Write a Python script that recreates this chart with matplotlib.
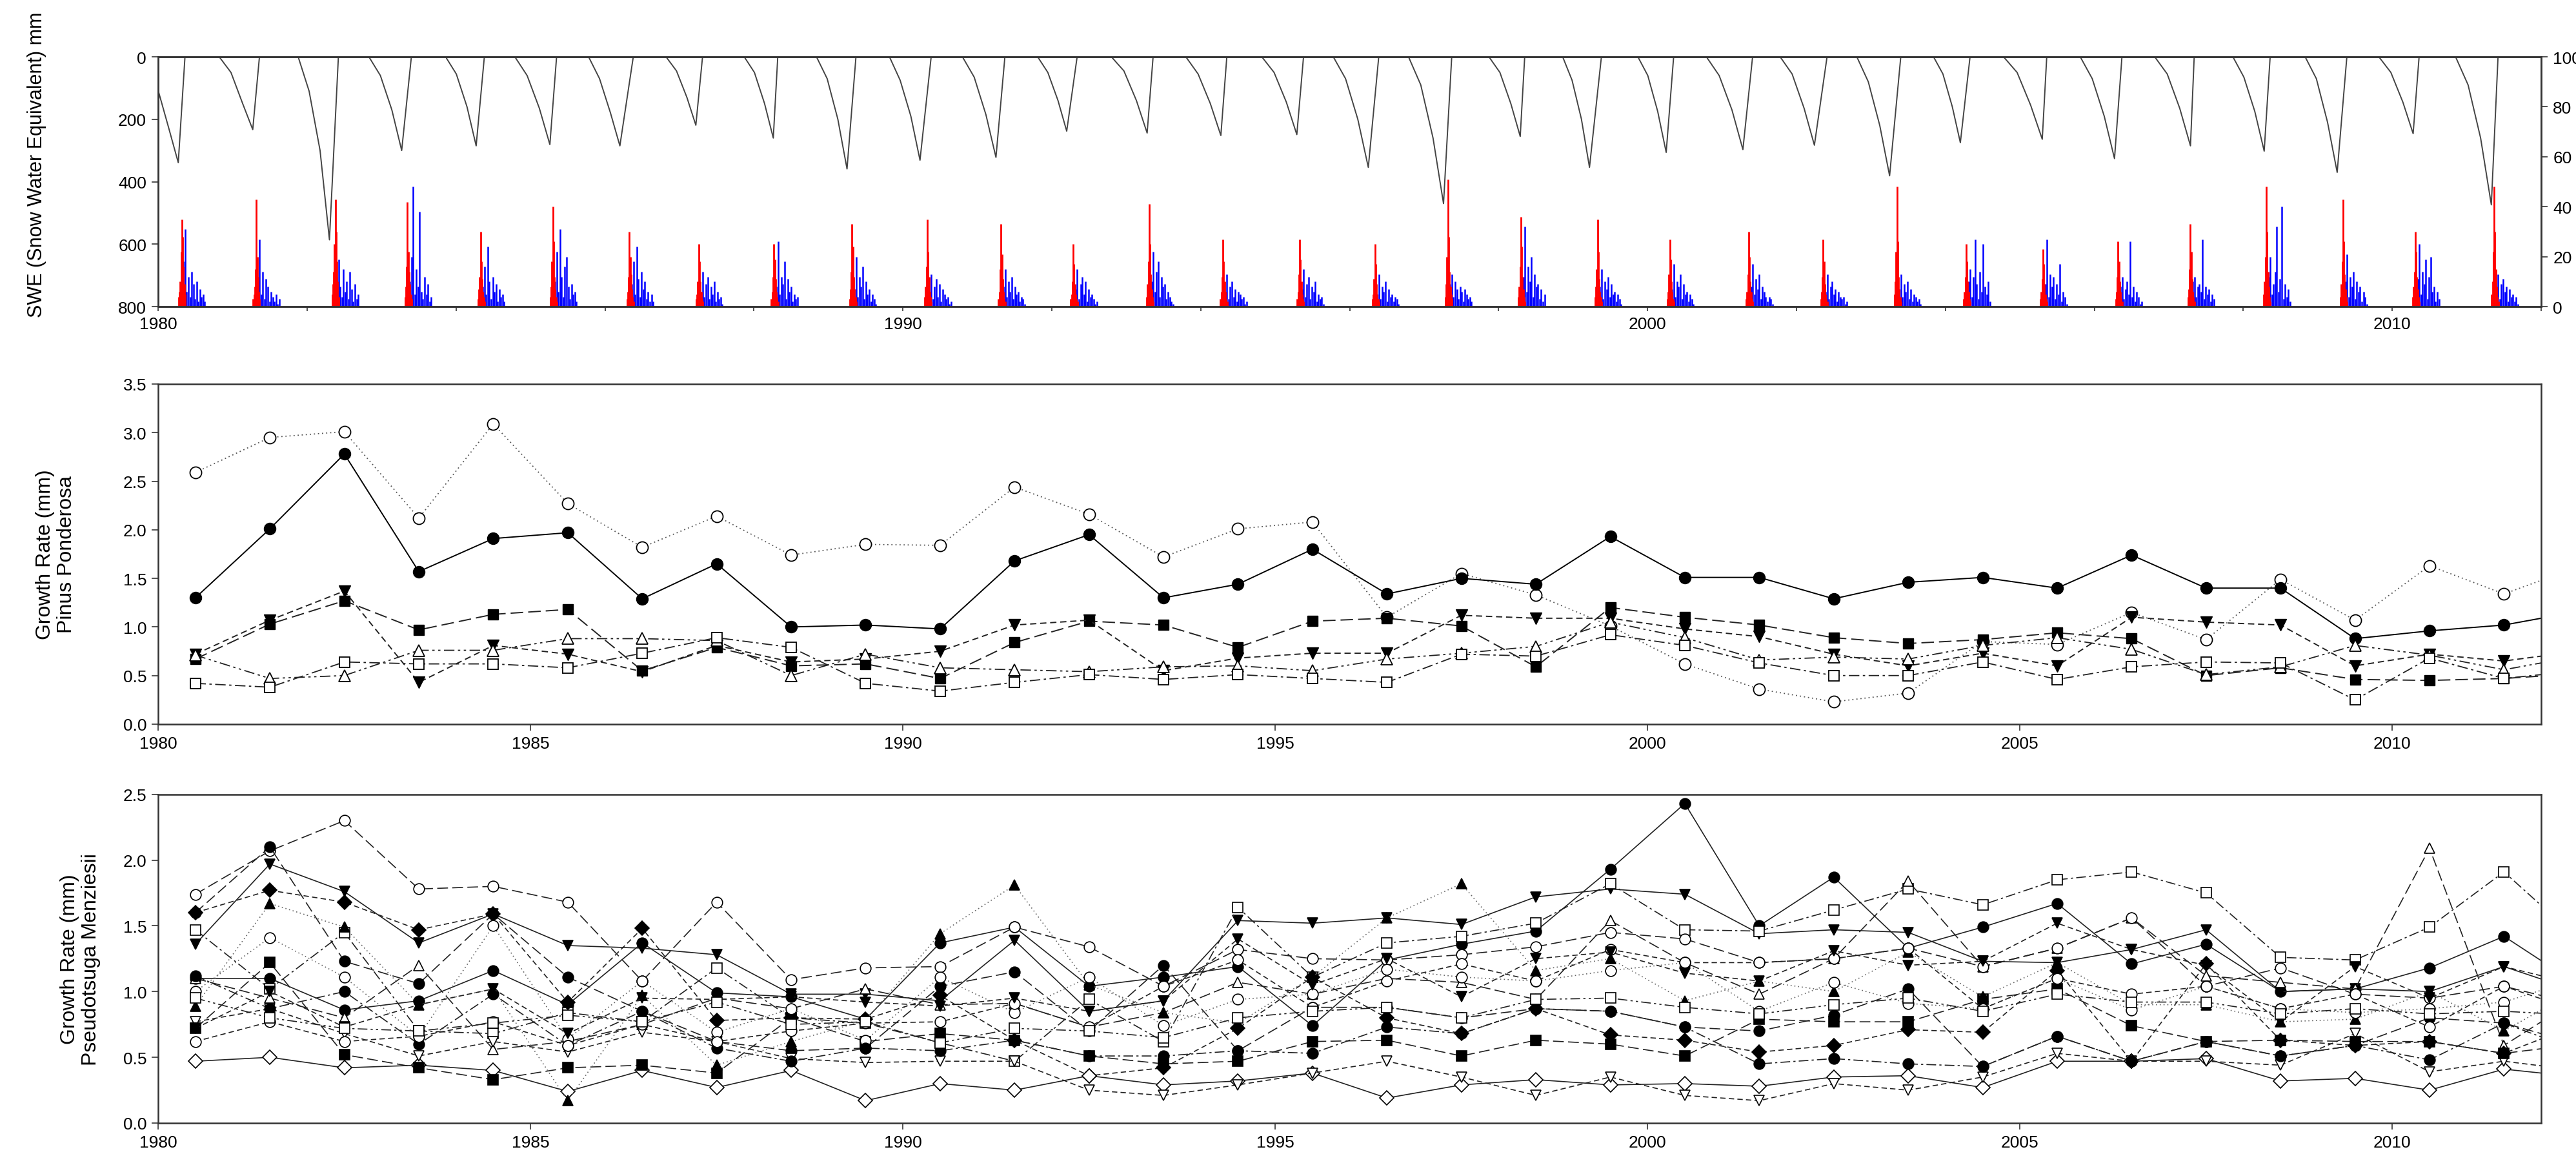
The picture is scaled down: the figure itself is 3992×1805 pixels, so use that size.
import numpy as np
import matplotlib
matplotlib.use('Agg')
import matplotlib.pyplot as plt
from matplotlib.ticker import MultipleLocator, FuncFormatter

plt.rcParams['font.family'] = ['Liberation Sans', 'DejaVu Sans']

# ---- top panel: snow water equivalent, one season per water year
swe_start = [1979.85, 1980.82, 1981.88, 1982.83, 1983.86, 1984.79, 1985.78, 1986.82,
             1987.87, 1988.84, 1989.82, 1990.80, 1991.81, 1992.80, 1993.80, 1994.82,
             1995.78, 1996.79, 1997.87, 1998.86, 1999.87, 2000.79, 2001.78, 2002.81,
             2003.84, 2004.78, 2005.81, 2006.81, 2007.86, 2008.83, 2009.82, 2010.85]
swe_peak_t = [1980.27, 1981.27, 1982.30, 1983.27, 1984.27, 1985.26, 1986.20, 1987.22,
              1988.26, 1989.25, 1990.23, 1991.25, 1992.20, 1993.28, 1994.27, 1995.29,
              1996.25, 1997.26, 1998.29, 1999.22, 2000.25, 2001.28, 2002.24, 2003.25,
              2004.20, 2005.30, 2006.27, 2007.29, 2008.28, 2009.26, 2010.28, 2011.33]
swe_melt = [1980.36, 1981.36, 1982.42, 1983.40, 1984.38, 1985.35, 1986.38, 1987.31,
            1988.32, 1989.37, 1990.38, 1991.37, 1992.34, 1993.36, 1994.35, 1995.38,
            1996.39, 1997.37, 1998.35, 1999.38, 2000.35, 2001.41, 2002.41, 2003.40,
            2004.33, 2005.36, 2006.37, 2007.34, 2008.36, 2009.39, 2010.36, 2011.42]
swe_peak = [339, 233, 586, 300, 285, 281, 285, 219, 260, 359, 331, 322, 238, 244, 252, 249,
            354, 470, 255, 354, 306, 297, 283, 381, 275, 264, 326, 285, 302, 370, 246, 474]
swe_q1 = [105, 50, 110, 60, 55, 60, 70, 45, 50, 70, 75, 65, 50, 45, 55, 50,
          70, 90, 50, 75, 60, 60, 55, 80, 55, 50, 70, 55, 65, 70, 50, 90]
swe_q2 = [230, 150, 300, 170, 160, 165, 180, 130, 150, 200, 190, 185, 140, 140, 150, 145,
          200, 260, 150, 200, 175, 170, 165, 220, 160, 155, 190, 165, 175, 210, 145, 260]

# daily totals around the melt of each year (right axis)
red_days = [
    "4 6 10 22 35 28 16 9 5", "3 5 8 15 43 20 12 6 3", "5 9 14 25 43 30 18 10 4",
    "4 8 16 42 22 14 9 5 3", "3 7 12 30 18 11 6 4 2", "4 8 18 40 26 12 7 4 2",
    "3 6 12 30 20 13 7 4 2", "3 5 10 25 18 10 6 3 2", "3 6 12 25 19 11 6 4 2",
    "3 7 14 33 24 12 7 4 2", "4 8 16 35 22 12 6 4 2", "3 6 15 33 21 11 6 3 2",
    "3 5 10 25 17 9 5 3 2", "4 9 18 41 25 13 7 4 2", "3 6 12 27 18 10 6 3 2",
    "3 6 13 27 19 10 5 3 2", "3 5 11 25 17 9 5 3 2", "4 9 20 51 28 14 8 5 3",
    "4 8 16 36 24 12 7 4 2", "4 8 15 35 22 11 6 4 2", "3 6 13 27 19 10 6 3 2",
    "3 6 13 30 20 10 6 3 2", "3 6 12 27 18 9 5 3 2", "5 10 22 48 26 12 7 4 2",
    "3 6 12 25 18 10 6 3 2", "3 6 11 23 17 9 5 3 2", "3 6 12 26 18 10 6 3 2",
    "4 7 15 33 22 11 6 4 2", "5 10 20 48 30 14 8 4 2", "4 9 18 43 26 13 7 4 2",
    "4 8 14 30 22 12 7 4 2", "5 10 22 48 30 15 8 4 2"]
blue_days = [
    "18 31 6 12 4 14 9 3 10 2 7 4 5 2", "9 27 5 14 3 11 8 2 6 4 2 5 1 3",
    "12 19 8 4 15 6 10 3 14 7 2 9 3 5", "10 20 48 5 15 8 38 6 3 12 5 9 2 4",
    "8 16 5 24 10 3 12 6 9 2 7 4 5 2", "10 22 6 31 12 4 16 20 8 3 9 5 6 2",
    "9 18 5 24 11 4 14 7 10 3 6 2 5 2", "6 14 4 9 12 3 8 5 10 2 6 3 4 1",
    "8 26 5 12 9 18 3 11 6 8 2 5 3 4", "7 20 4 12 8 16 3 10 5 7 2 5 3 1",
    "6 13 3 8 11 4 9 2 7 5 3 4 1 2", "8 15 4 10 6 12 3 8 5 6 2 4 3 1",
    "7 15 3 9 12 5 10 2 7 4 5 3 1 2", "10 22 6 14 18 4 12 8 9 3 6 4 2 1",
    "6 13 3 8 10 4 7 2 6 5 3 4 1 2", "7 15 4 9 12 3 8 6 10 2 5 3 4 1",
    "5 13 3 8 6 10 2 7 4 5 2 4 3 1", "9 13 4 10 7 3 8 6 2 7 5 3 4 2",
    "12 32 6 16 10 20 4 13 8 9 3 7 2 5", "8 15 3 10 7 12 4 9 5 6 2 5 3 1",
    "7 17 4 10 8 13 3 9 5 6 2 5 3 1", "8 17 5 11 7 13 3 8 6 4 2 4 3 1",
    "6 13 3 8 10 5 7 2 6 4 3 4 1 2", "7 13 4 9 6 10 3 7 2 5 4 2 3 1",
    "10 15 4 12 27 9 3 14 6 25 8 5 10 2", "9 27 4 13 8 12 3 9 5 17 2 6 4 1",
    "8 12 3 7 10 5 26 4 8 2 6 4 1 2", "10 12 4 8 9 6 27 3 8 5 7 2 5 3",
    "12 20 5 9 14 32 6 11 40 3 9 4 7 2", "10 21 4 12 8 14 3 10 6 8 2 6 4 1",
    "11 25 5 14 9 19 3 12 20 6 8 2 6 3", "8 13 3 9 11 6 8 2 7 4 5 2 4 1"]

# ---- tree ring growth (mm), one value per year, plotted mid-year
ring_years = [1980.5 + i for i in range(33)]

pp_open_circle = [2.59, 2.95, 3.01, 2.12, 3.09, 2.27, 1.82, 2.14, 1.74, 1.85, 1.84, 2.44, 2.16, 1.72, 2.01, 2.08, 1.10,
                  1.55, 1.33, 1.01, 0.62, 0.36, 0.23, 0.32, 0.85, 0.82, 1.15, 0.87, 1.49, 1.07, 1.63, 1.34, 1.62]
pp_filled_circle = [1.30, 2.01, 2.78, 1.57, 1.91, 1.97, 1.29, 1.65, 1.00, 1.02, 0.98, 1.68, 1.95, 1.30, 1.44, 1.80, 1.34,
                    1.50, 1.44, 1.93, 1.51, 1.51, 1.29, 1.46, 1.51, 1.40, 1.74, 1.40, 1.40, 0.88, 0.96, 1.02, 1.16]
pp_filled_square = [0.67, 1.03, 1.27, 0.97, 1.13, 1.18, 0.55, 0.79, 0.60, 0.62, 0.47, 0.84, 1.06, 1.02, 0.79, 1.06, 1.09,
                    1.01, 0.59, 1.20, 1.10, 1.02, 0.89, 0.83, 0.87, 0.94, 0.88, 0.50, 0.58, 0.46, 0.45, 0.47, 0.52]
pp_filled_tri = [0.72, 1.07, 1.37, 0.43, 0.81, 0.72, 0.54, 0.81, 0.64, 0.67, 0.75, 1.02, 1.07, 0.55, 0.68, 0.73, 0.73,
                 1.12, 1.09, 1.09, 0.98, 0.90, 0.72, 0.60, 0.73, 0.60, 1.10, 1.05, 1.02, 0.60, 0.72, 0.65, 0.75]
pp_open_tri = [0.71, 0.47, 0.50, 0.76, 0.76, 0.88, 0.88, 0.86, 0.50, 0.72, 0.58, 0.56, 0.54, 0.59, 0.60, 0.55, 0.67,
               0.73, 0.80, 1.05, 0.89, 0.66, 0.69, 0.67, 0.81, 0.89, 0.77, 0.51, 0.59, 0.81, 0.71, 0.56, 0.70]
pp_open_square = [0.42, 0.38, 0.64, 0.62, 0.62, 0.58, 0.73, 0.89, 0.79, 0.42, 0.34, 0.43, 0.51, 0.46, 0.51, 0.47, 0.43,
                  0.72, 0.70, 0.92, 0.81, 0.63, 0.50, 0.50, 0.64, 0.46, 0.59, 0.64, 0.63, 0.25, 0.68, 0.47, 0.55]

pm_series = [
    [1.10, 1.10, 0.86, 0.93, 1.16, 0.90, 1.37, 0.99, 0.96, 0.79, 1.37, 1.49, 1.04, 1.11, 1.19, 0.74, 1.24,
     1.36, 1.46, 1.93, 2.43, 1.50, 1.87, 1.33, 1.49, 1.67, 1.21, 1.36, 1.00, 1.02, 1.18, 1.42, 1.05],
    [1.36, 1.97, 1.76, 1.37, 1.59, 1.35, 1.33, 1.28, 0.98, 0.98, 0.93, 1.39, 0.85, 0.93, 1.54, 1.52, 1.56,
     1.51, 1.72, 1.78, 1.74, 1.44, 1.47, 1.45, 1.23, 1.22, 1.32, 1.47, 1.00, 1.02, 1.00, 1.19, 1.00],
    [1.47, 1.02, 1.45, 0.70, 0.68, 0.84, 0.77, 1.18, 0.80, 0.76, 0.61, 0.47, 0.94, 0.62, 1.64, 1.11, 1.37,
     1.42, 1.52, 1.82, 1.47, 1.46, 1.62, 1.78, 1.66, 1.85, 1.91, 1.75, 1.26, 1.24, 1.49, 1.91, 1.40],
    [1.10, 0.95, 0.80, 1.20, 0.56, 0.62, 0.75, 0.95, 0.87, 1.02, 0.90, 0.91, 0.73, 0.84, 1.07, 0.98, 1.10,
     1.07, 0.94, 1.54, 1.22, 0.98, 1.25, 1.84, 1.19, 1.33, 1.56, 1.12, 1.07, 1.02, 2.09, 0.59, 0.95],
    [1.74, 2.07, 2.30, 1.78, 1.80, 1.68, 1.08, 1.68, 1.09, 1.18, 1.19, 1.49, 1.34, 1.04, 1.32, 1.25, 1.24,
     1.28, 1.34, 1.45, 1.40, 1.22, 1.25, 1.33, 1.19, 1.33, 1.56, 1.04, 1.18, 0.98, 0.95, 1.04, 0.90],
    [1.60, 2.10, 1.23, 1.06, 1.59, 1.11, 0.85, 0.62, 0.55, 0.57, 1.04, 1.15, 0.70, 1.20, 0.55, 0.88, 0.88,
     0.80, 0.87, 0.85, 0.73, 0.70, 0.82, 1.02, 0.43, 0.66, 0.47, 0.62, 0.51, 0.59, 0.80, 0.76, 0.60],
    [1.60, 1.77, 1.68, 1.47, 1.59, 0.92, 1.48, 0.78, 0.80, 0.79, 0.97, 0.63, 0.36, 0.42, 0.72, 1.11, 0.80,
     0.68, 0.87, 0.67, 0.63, 0.54, 0.59, 0.71, 0.69, 1.16, 0.47, 1.21, 0.63, 0.59, 0.62, 0.53, 0.75],
    [0.47, 0.50, 0.42, 0.44, 0.40, 0.24, 0.40, 0.27, 0.40, 0.17, 0.30, 0.25, 0.36, 0.29, 0.32, 0.38, 0.19,
     0.29, 0.33, 0.29, 0.30, 0.28, 0.35, 0.36, 0.27, 0.47, 0.47, 0.49, 0.32, 0.34, 0.25, 0.41, 0.35],
    [0.77, 0.87, 0.68, 0.51, 0.62, 0.54, 0.69, 0.62, 0.49, 0.46, 0.47, 0.47, 0.25, 0.21, 0.29, 0.38, 0.47,
     0.35, 0.21, 0.35, 0.21, 0.17, 0.30, 0.25, 0.35, 0.53, 0.47, 0.47, 0.44, 0.68, 0.39, 0.47, 0.40],
    [0.72, 1.22, 0.52, 0.42, 0.33, 0.42, 0.44, 0.38, 0.80, 0.62, 0.68, 0.63, 0.51, 0.45, 0.47, 0.62, 0.63,
     0.51, 0.63, 0.60, 0.51, 0.79, 0.77, 0.77, 0.94, 1.02, 0.74, 0.62, 0.63, 0.62, 0.62, 0.53, 0.60],
    [0.89, 1.67, 1.49, 0.90, 1.02, 0.17, 0.97, 0.44, 0.62, 0.78, 1.44, 1.81, 1.05, 0.84, 0.76, 1.11, 1.56,
     1.82, 1.16, 1.25, 0.93, 1.08, 1.00, 1.30, 0.96, 1.22, 0.90, 0.90, 0.77, 0.79, 1.00, 0.70, 1.02],
    [1.00, 1.41, 1.11, 0.66, 1.50, 0.64, 1.08, 0.69, 0.87, 0.63, 1.11, 0.84, 1.11, 0.74, 0.94, 0.98, 1.17,
     1.11, 1.08, 1.16, 1.22, 0.85, 1.07, 0.91, 0.87, 1.10, 0.86, 1.04, 0.87, 0.84, 0.87, 0.92, 1.10],
    [1.12, 0.87, 1.00, 0.60, 0.98, 0.59, 0.85, 0.57, 0.47, 0.57, 0.55, 0.63, 0.51, 0.51, 0.55, 0.53, 0.73,
     0.68, 0.87, 0.85, 0.73, 0.45, 0.49, 0.45, 0.43, 0.66, 0.47, 0.62, 0.51, 0.59, 0.48, 0.76, 0.55],
    [0.62, 0.77, 0.62, 0.66, 0.77, 0.59, 0.75, 0.62, 0.70, 0.76, 0.77, 0.91, 0.73, 1.04, 1.24, 0.88, 1.08,
     1.21, 1.08, 1.32, 1.22, 1.22, 1.25, 1.33, 0.87, 1.10, 0.98, 1.04, 0.87, 0.98, 0.73, 1.04, 0.85],
    [0.72, 1.00, 0.73, 0.90, 1.02, 0.68, 0.95, 0.94, 0.96, 0.92, 0.89, 0.95, 0.85, 0.93, 1.40, 1.05, 1.25,
     0.96, 1.25, 1.30, 1.14, 1.08, 1.31, 1.20, 1.23, 1.52, 1.32, 1.20, 0.77, 1.19, 0.95, 1.19, 1.05],
    [0.95, 0.80, 0.72, 0.70, 0.76, 0.82, 0.77, 0.92, 0.75, 0.77, 0.61, 0.72, 0.70, 0.65, 0.80, 0.85, 0.88,
     0.80, 0.94, 0.95, 0.88, 0.83, 0.90, 0.95, 0.85, 0.98, 0.92, 0.92, 0.83, 0.87, 0.83, 0.85, 0.82],
]

SOLID = '-'
LONG = (0, (10, 4))
SHORT = (0, (5, 3))
DOT = (0, (1, 2.5))
DASHDOT = (0, (9, 3, 2, 3))
DASHDOTDOT = (0, (9, 3, 2, 3, 2, 3))

pm_styles = [('o', 'k', SOLID), ('v', 'k', SOLID), ('s', 'w', DASHDOT), ('^', 'w', LONG),
             ('o', 'w', LONG), ('o', 'k', LONG), ('D', 'k', SHORT), ('D', 'w', SOLID),
             ('v', 'w', SHORT), ('s', 'k', LONG), ('^', 'k', DOT), ('o', 'w', DOT),
             ('o', 'k', DASHDOT), ('o', 'w', SHORT), ('v', 'k', SHORT), ('s', 'w', DASHDOTDOT)]

fig = plt.figure(figsize=(39.92, 18.06), dpi=100)

spine_col = '#333333'
tick_fs = 19
label_fs = 23


def style_axes(ax):
    for sp in ax.spines.values():
        sp.set_linewidth(1.8)
        sp.set_color(spine_col)
    ax.tick_params(direction='out', length=7, width=1.2, color=spine_col,
                   labelsize=tick_fs, pad=6)


# ---------- top panel
ax_top = fig.add_axes([0.0614, 0.7364, 0.9251, 0.2143])
ax_rain = ax_top.twinx()

for i in range(len(red_days)):
    m = swe_melt[i]
    r = [float(v) for v in red_days[i].split()]
    b = [float(v) for v in blue_days[i].split()]
    rx = [m - 0.085 + k * 0.011 for k in range(len(r))]
    bx = [m - 0.02 + k * 0.022 for k in range(len(b))]
    ax_rain.vlines(bx, 0, b, color='#0000ff', lw=1.8)
    ax_rain.vlines(rx, 0, r, color='#ff0000', lw=2.0)

swe_t, swe_v = [], []
for i in range(len(swe_peak)):
    s, p, m = swe_start[i], swe_peak_t[i], swe_melt[i]
    swe_t += [s, s + 0.35 * (p - s), s + 0.7 * (p - s), p, m]
    swe_v += [0, swe_q1[i], swe_q2[i], swe_peak[i], 0]
swe_t.append(2012.5)
swe_v.append(0)

ax_top.set_zorder(ax_rain.get_zorder() + 1)
ax_top.patch.set_visible(False)
ax_top.plot(swe_t, swe_v, color='#444444', lw=1.4)

ax_top.set_xlim(1980, 2012)
ax_top.set_ylim(800, 0)
ax_top.set_yticks([0, 200, 400, 600, 800])
ax_rain.set_ylim(0, 100)
ax_rain.set_yticks([0, 20, 40, 60, 80, 100])
ax_top.xaxis.set_major_locator(MultipleLocator(2))
ax_top.xaxis.set_major_formatter(FuncFormatter(
    lambda v, pos: str(int(round(v))) if int(round(v)) % 10 == 0 else ''))
style_axes(ax_top)
style_axes(ax_rain)
ax_top.tick_params(axis='x', length=5)
ax_top.set_ylabel('SWE (Snow Water Equivalent) mm', fontsize=22)
ax_top.yaxis.set_label_coords(-0.047, 0.57)

# ---------- middle panel: Pinus ponderosa
ax_mid = fig.add_axes([0.0614, 0.3782, 0.9251, 0.2918])
ms = 13
ax_mid.plot(ring_years, pp_open_circle, color='#555555', ls=DOT, lw=1.3, marker='o', ms=ms,
            mfc='w', mec='k', mew=1.3)
ax_mid.plot(ring_years, pp_filled_circle, color='k', ls=SOLID, lw=1.4, marker='o', ms=ms,
            mfc='k', mec='k')
ax_mid.plot(ring_years, pp_filled_square, color='#222222', ls=LONG, lw=1.4, marker='s', ms=ms - 1,
            mfc='k', mec='k')
ax_mid.plot(ring_years, pp_filled_tri, color='#222222', ls=SHORT, lw=1.4, marker='v', ms=ms,
            mfc='k', mec='k')
ax_mid.plot(ring_years, pp_open_tri, color='#222222', ls=DASHDOTDOT, lw=1.3, marker='^', ms=ms,
            mfc='w', mec='k', mew=1.3)
ax_mid.plot(ring_years, pp_open_square, color='#222222', ls=DASHDOT, lw=1.3, marker='s', ms=ms - 1,
            mfc='w', mec='k', mew=1.3)
ax_mid.set_xlim(1980, 2012)
ax_mid.set_ylim(0, 3.5)
ax_mid.yaxis.set_major_locator(MultipleLocator(0.5))
ax_mid.yaxis.set_major_formatter(FuncFormatter(lambda v, pos: '%.1f' % v))
ax_mid.xaxis.set_major_locator(MultipleLocator(5))
ax_mid.xaxis.set_major_formatter(FuncFormatter(lambda v, pos: str(int(round(v)))))
style_axes(ax_mid)
ax_mid.set_ylabel('Growth Rate (mm)\nPinus Ponderosa', fontsize=label_fs, linespacing=1.15)
ax_mid.yaxis.set_label_coords(-0.0344, 0.5)

# ---------- bottom panel: Pseudotsuga menziesii
ax_bot = fig.add_axes([0.0614, 0.036, 0.9251, 0.282])
for vals, (mk, fc, ls) in zip(pm_series, pm_styles):
    size = ms - 2 if mk in ('s', 'D') else ms - 1
    lc = '#666666' if ls == DOT else '#222222'
    ax_bot.plot(ring_years, vals, color=lc, ls=ls, lw=1.2, marker=mk, ms=size,
                mfc=fc, mec='k', mew=1.2)
ax_bot.set_xlim(1980, 2012)
ax_bot.set_ylim(0, 2.5)
ax_bot.yaxis.set_major_locator(MultipleLocator(0.5))
ax_bot.yaxis.set_major_formatter(FuncFormatter(lambda v, pos: '%.1f' % v))
ax_bot.xaxis.set_major_locator(MultipleLocator(5))
ax_bot.xaxis.set_major_formatter(FuncFormatter(lambda v, pos: str(int(round(v)))))
style_axes(ax_bot)
ax_bot.set_ylabel('Growth Rate (mm)\nPseudotsuga Menziesii', fontsize=label_fs, linespacing=1.15)
ax_bot.yaxis.set_label_coords(-0.024, 0.5)

fig.savefig('out.png', dpi=100)
